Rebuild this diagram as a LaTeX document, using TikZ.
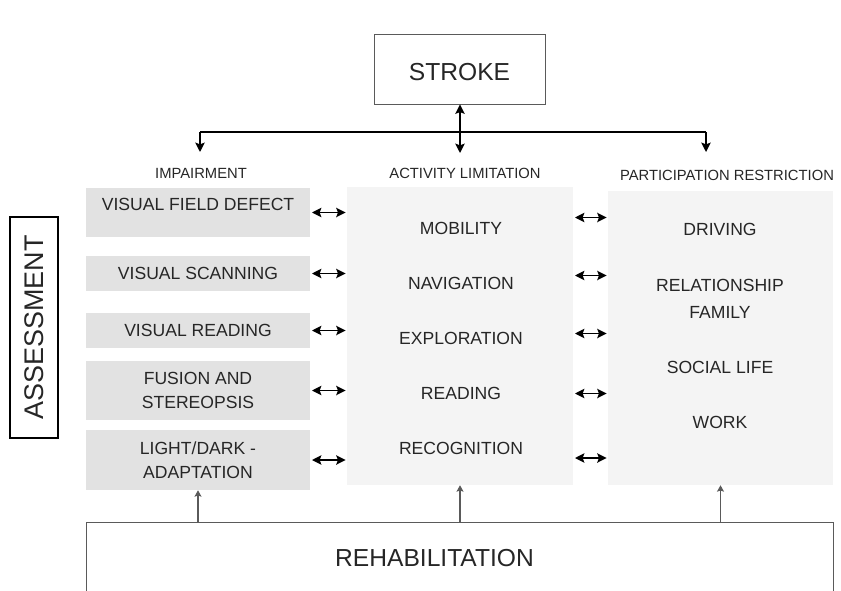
\documentclass[tikz,border=0pt]{standalone}
\usepackage{fontspec}
\setmainfont{Liberation Sans}
\usetikzlibrary{arrows.meta,positioning}

\definecolor{txtgray}{HTML}{262626}
\definecolor{impfill}{HTML}{E2E2E2}
\definecolor{colfill}{HTML}{F4F4F4}
\definecolor{edgegray}{HTML}{5A5A5A}

\tikzset{
  boxtxt/.style={font=\fontsize{15}{20}\selectfont,text=txtgray,align=center},
  headtxt/.style={font=\fontsize{12.6}{15}\selectfont,text=txtgray},
  impbox/.style={boxtxt,fill=impfill,minimum width=224*0.03cm},
  colbox/.style={fill=colfill,minimum width=226*0.03cm},
  thinbox/.style={draw=edgegray,line width=0.8pt},
  dblarr/.style={{Stealth[length=8pt,width=8pt,inset=1.5pt]}-{Stealth[length=8pt,width=8pt,inset=1.5pt]},line width=1.4pt,black},
  downarr/.style={-{Stealth[length=8pt,width=8pt,inset=1.5pt]},line width=1.4pt,black},
  uparr/.style={-{Stealth[length=5.5pt,width=6pt,inset=1pt]},line width=0.9pt,edgegray}
}

\begin{document}
\begin{tikzpicture}[x=0.03cm,y=-0.03cm]
  \clip (0,0) rectangle (841,591);

  \node[thinbox,minimum width=171*0.03cm,minimum height=70*0.03cm,text=txtgray,font=\fontsize{21}{25}\selectfont,text height=20pt] (stroke) at (459.5,69) {STROKE};

  \node[headtxt] (imphead) at (201,173) {IMPAIRMENT};
  \node[headtxt] (acthead) at (465,173) {ACTIVITY LIMITATION};
  \node[headtxt] (parthead) at (727,175) {PARTICIPATION RESTRICTION};

  \coordinate (jl) at (200,132); \coordinate (jr) at (706,132);
  \coordinate (jltip) at (200,152); \coordinate (jrtip) at (706,152); \coordinate (jmtip) at (460,153);
  \draw[line width=1.4pt] (jl) -- (jr);
  \draw[downarr] (jl) -- (jltip);
  \draw[downarr] (jr) -- (jrtip);
  \draw[dblarr] (stroke.south -| jmtip) -- (jmtip);

  % columns
  \node[impbox,minimum height=49*0.03cm,text depth=14pt] (imp1) at (198,212.5) {VISUAL FIELD DEFECT};
  \node[impbox,minimum height=35*0.03cm] (imp2) at (198,273.5) {VISUAL SCANNING};
  \node[impbox,minimum height=35*0.03cm] (imp3) at (198,330.5) {VISUAL READING};
  \node[impbox,minimum height=59*0.03cm] (imp4) at (198,390.5) {FUSION AND\\STEREOPSIS};
  \node[impbox,minimum height=60*0.03cm] (imp5) at (198,460) {LIGHT/DARK -\\ADAPTATION};

  \node[colbox,minimum height=298*0.03cm] (act) at (460,336) {};
  \node[colbox,minimum width=225*0.03cm,minimum height=294*0.03cm] (part) at (720.5,338) {};

  \node[boxtxt] (mob) at (461,228) {MOBILITY};
  \node[boxtxt] (nav) at (461,283) {NAVIGATION};
  \node[boxtxt] (expl) at (461,338) {EXPLORATION};
  \node[boxtxt] (read) at (461,393) {READING};
  \node[boxtxt] (recog) at (461,448) {RECOGNITION};

  \node[boxtxt] (drive) at (720,229) {DRIVING};
  \node[boxtxt] (relfam) at (720,298.5) {RELATIONSHIP\\[3pt]FAMILY};
  \node[boxtxt] (social) at (720,367) {SOCIAL LIFE};
  \node[boxtxt] (work) at (720,422) {WORK};

  \foreach \i/\dy in {1/5,2/2,3/3,4/3,5/-2}{
    \draw[dblarr,shorten <=1.5pt,shorten >=1pt] (imp\i.east) -- (imp\i.east -| act.west);
    \draw[dblarr,shorten <=1.5pt,shorten >=1pt] ([yshift=-\dy*0.03cm]imp\i.east -| act.east) -- ([yshift=-\dy*0.03cm]imp\i.east -| part.west);
  }

  \node[draw=black,line width=1.2pt,rotate=90,minimum width=221*0.03cm,minimum height=48*0.03cm,text=txtgray,font=\fontsize{23}{27}\selectfont] (assess) at (34,327.5) {ASSESSMENT};

  \node[thinbox,minimum width=747*0.03cm,minimum height=72*0.03cm] (rehab) at (459.5,558) {};
  \node[text=txtgray,font=\fontsize{21}{25}\selectfont] (rehabtxt) at (434.5,558) {REHABILITATION};
  \draw[uparr] (rehab.north -| imp5.south) -- (imp5.south);
  \draw[uparr] (rehab.north -| act.south) -- (act.south);
  \draw[uparr] (rehab.north -| part.south) -- (part.south);
\end{tikzpicture}
\end{document}
